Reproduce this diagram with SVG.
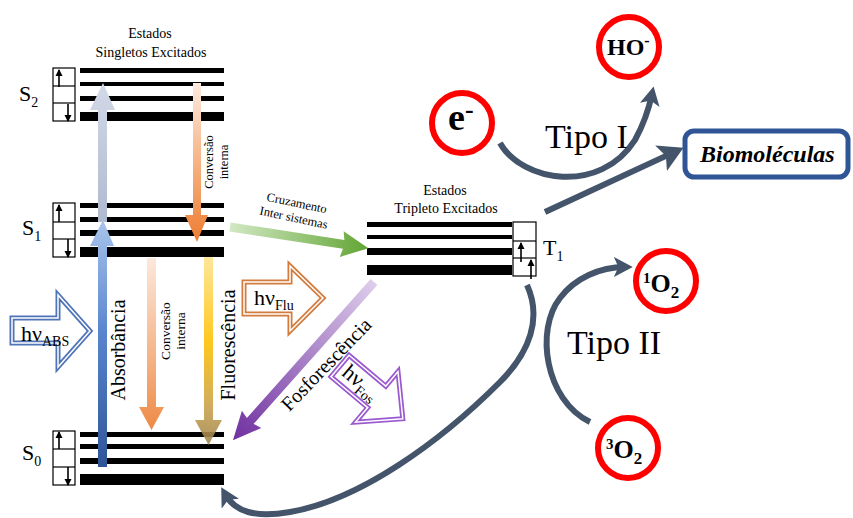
<svg xmlns="http://www.w3.org/2000/svg" width="853" height="518" viewBox="0 0 853 518" font-family="'Liberation Serif', 'Times New Roman', 'DejaVu Serif', serif">
<style>
text{font-family:'Liberation Serif','Times New Roman','DejaVu Serif',serif;fill:#000}
.b{font-weight:bold}
.lv{fill:#000}
.box{fill:#fff;stroke:#000;stroke-width:1.2}
.sa{stroke:#000;stroke-width:1.6;fill:none;marker-end:url(#sm)}
.sl{fill:none;stroke:#44546a;stroke-width:6}
.circ{fill:#fff;stroke:#ff0000;stroke-width:6}
</style>
<defs>
<marker id="sm" markerUnits="userSpaceOnUse" markerWidth="8" markerHeight="8" refX="6" refY="3.5" orient="auto" viewBox="0 0 8 7"><path d="M0,0 L7,3.5 L0,7 Z" fill="#000"/></marker>
<marker id="ah" markerUnits="userSpaceOnUse" markerWidth="20" markerHeight="20" refX="10" refY="9" orient="auto" viewBox="0 0 18 18"><path d="M0,0 L17,9 L0,18 L4,9 Z" fill="#44546a"/></marker>
<marker id="ahL" markerUnits="userSpaceOnUse" markerWidth="26" markerHeight="28" refX="15" refY="13" orient="auto" viewBox="0 0 24 26"><path d="M0,0 L23,13 L0,26 L5,13 Z" fill="#44546a"/></marker>
<linearGradient id="gAbsLow" gradientUnits="userSpaceOnUse" x1="0" y1="467" x2="0" y2="220"><stop offset="0" stop-color="#2f5597"/><stop offset="0.55" stop-color="#5a86cf"/><stop offset="1" stop-color="#a9c4ec"/></linearGradient>
<linearGradient id="gAbsUp" gradientUnits="userSpaceOnUse" x1="0" y1="222" x2="0" y2="83"><stop offset="0" stop-color="#aebad0"/><stop offset="1" stop-color="#d2d9e7"/></linearGradient>
<linearGradient id="gConvTop" gradientUnits="userSpaceOnUse" x1="0" y1="83" x2="0" y2="242"><stop offset="0" stop-color="#fdeadf"/><stop offset="0.6" stop-color="#f4a872"/><stop offset="1" stop-color="#ed7d31"/></linearGradient>
<linearGradient id="gConvBot" gradientUnits="userSpaceOnUse" x1="0" y1="258" x2="0" y2="430"><stop offset="0" stop-color="#fce8dc"/><stop offset="0.6" stop-color="#f4b183"/><stop offset="1" stop-color="#ee8a46"/></linearGradient>
<linearGradient id="gFlu" gradientUnits="userSpaceOnUse" x1="0" y1="257" x2="0" y2="445"><stop offset="0" stop-color="#ffe38c"/><stop offset="0.45" stop-color="#ffc000"/><stop offset="0.8" stop-color="#c9a04a"/><stop offset="1" stop-color="#9c8450"/></linearGradient>
<linearGradient id="gCis" x1="0" y1="0" x2="1" y2="0"><stop offset="0" stop-color="#d2e8c4"/><stop offset="1" stop-color="#62a534"/></linearGradient>
<linearGradient id="gFos" x1="0" y1="0" x2="1" y2="0"><stop offset="0" stop-color="#ddcdea"/><stop offset="1" stop-color="#7030a0"/></linearGradient>
</defs>
<rect width="853" height="518" fill="#fff"/>

<g id="singlet-title">
<text x="150" y="38" font-size="14" text-anchor="middle">Estados</text>
<text x="151" y="57" font-size="14" text-anchor="middle">Singletos Excitados</text>
</g>

<g id="S2">
<rect class="lv" x="80" y="68" width="144" height="5"/>
<rect class="lv" x="80" y="82" width="144" height="4"/>
<rect class="lv" x="80" y="96" width="144" height="5"/>
<rect class="lv" x="80" y="112" width="144" height="9"/>
<rect class="box" x="53" y="68" width="22" height="53"/>
<line x1="53" y1="86" x2="75" y2="86" stroke="#000" stroke-width="1.2"/>
<line x1="53" y1="103" x2="75" y2="103" stroke="#000" stroke-width="1.2"/>
<line class="sa" x1="59" y1="87" x2="59" y2="70"/>
<line class="sa" x1="68" y1="104" x2="68" y2="121"/>
<text x="19" y="101" font-size="22">S<tspan font-size="14" dy="6">2</tspan></text>
</g>

<g id="S1">
<rect class="lv" x="80" y="203" width="144" height="5"/>
<rect class="lv" x="80" y="217" width="144" height="5"/>
<rect class="lv" x="80" y="230" width="144" height="6"/>
<rect class="lv" x="80" y="247" width="144" height="10"/>
<rect class="box" x="53" y="203" width="22" height="54"/>
<line x1="53" y1="222" x2="75" y2="222" stroke="#000" stroke-width="1.2"/>
<line x1="53" y1="239" x2="75" y2="239" stroke="#000" stroke-width="1.2"/>
<line class="sa" x1="59" y1="222" x2="59" y2="205"/>
<line class="sa" x1="68" y1="239" x2="68" y2="257"/>
<text x="22" y="235" font-size="22">S<tspan font-size="14" dy="6">1</tspan></text>
</g>

<g id="S0">
<rect class="lv" x="80" y="432" width="144" height="5"/>
<rect class="lv" x="80" y="444" width="144" height="5"/>
<rect class="lv" x="80" y="458" width="144" height="6"/>
<rect class="lv" x="80" y="474" width="144" height="11"/>
<rect class="box" x="53" y="431" width="22" height="54"/>
<line x1="53" y1="449" x2="75" y2="449" stroke="#000" stroke-width="1.2"/>
<line x1="53" y1="467" x2="75" y2="467" stroke="#000" stroke-width="1.2"/>
<line class="sa" x1="59" y1="449" x2="59" y2="432"/>
<line class="sa" x1="68" y1="467" x2="68" y2="485"/>
<text x="22" y="460" font-size="22">S<tspan font-size="14" dy="6">0</tspan></text>
</g>

<g id="T1">
<text x="445" y="195" font-size="14" text-anchor="middle">Estados</text>
<text x="446" y="213" font-size="14" text-anchor="middle">Tripleto Excitados</text>
<rect class="lv" x="367" y="222" width="145" height="5"/>
<rect class="lv" x="367" y="235" width="145" height="4"/>
<rect class="lv" x="367" y="248" width="145" height="7"/>
<rect class="lv" x="367" y="265" width="145" height="10"/>
<rect class="box" x="513" y="222" width="23" height="54"/>
<line x1="513" y1="241" x2="536" y2="241" stroke="#000" stroke-width="1.2"/>
<line x1="513" y1="258" x2="536" y2="258" stroke="#000" stroke-width="1.2"/>
<line class="sa" x1="521" y1="262" x2="521" y2="243"/>
<line class="sa" x1="531" y1="279" x2="531" y2="260"/>
<text x="543" y="255" font-size="22">T<tspan font-size="14" dy="6">1</tspan></text>
</g>

<g id="connectors">
<g id="absorbancia">
<polygon fill="url(#gAbsUp)" points="98,222 98,110 90,110 103,83 115,110 107,110 107,222"/>
<polygon fill="url(#gAbsLow)" points="98,467 98,246 90,246 103,220 114,246 107,246 107,467"/>
<text transform="translate(125,350) rotate(-90)" font-size="20" text-anchor="middle">Absorbância</text>
</g>
<g id="conv-top">
<polygon fill="url(#gConvTop)" points="193,83 193,215 185,215 197,242 208,215 201,215 201,83"/>
<text transform="translate(213,162) rotate(-90)" font-size="12.5" text-anchor="middle">Conversão<tspan x="0" dy="15">interna</tspan></text>
</g>
<g id="conv-bot">
<polygon fill="url(#gConvBot)" points="147,258 147,407 139,407 151.5,430 164,407 156,407 156,258"/>
<text transform="translate(170,331) rotate(-90)" font-size="13.5" text-anchor="middle">Conversão<tspan x="0" dy="15">interna</tspan></text>
</g>
<g id="fluorescencia">
<polygon fill="url(#gFlu)" opacity="0.88" points="204,257 204,420 195,420 208.5,445 222,420 213,420 213,257"/>
<text transform="translate(235,345) rotate(-90)" font-size="20" text-anchor="middle">Fluorescência</text>
</g>
<g id="cruzamento">
<polygon fill="url(#gCis)" transform="translate(230,227) rotate(8.7)" points="0,-4.5 115,-4.5 113,-13 140,0 113,13 115,4.5 0,4.5"/>
<g transform="translate(296,207) rotate(12)">
<text x="0" y="0" font-size="12.5" text-anchor="middle">Cruzamento</text>
<text x="0" y="15" font-size="12.5" text-anchor="middle">Inter sistemas</text>
</g>
</g>
<g id="fosforescencia">
<polygon fill="url(#gFos)" transform="translate(374,282) rotate(131.7)" points="0,-4.5 186,-4.5 184,-13 212,0 184,13 186,4.5 0,4.5"/>
<text transform="translate(331,369) rotate(-46)" font-size="20" text-anchor="middle">Fosforescência</text>
</g>
<path class="sl" d="M500,143 C522,182 600,195 635,140 Q647,118 652,94" marker-end="url(#ah)"/>
<path class="sl" d="M545,212 L675.7,151.4" marker-end="url(#ahL)"/>
<path class="sl" d="M590,422 C545,400 535,330 560,298 C575,278 600,267 625,267" marker-end="url(#ah)"/>
<path class="sl" d="M527,285 C542,318 530,352 500,382 C440,442 360,500 290,512 C255,518 235,512 225,494" marker-end="url(#ah)"/>
</g>

<g id="hv-abs">
<polygon points="12,318 58,318 58,295 90,331 58,367 58,343 12,343" fill="#fff" stroke="#4f74b8" stroke-width="5"/>
<polygon points="12,318 58,318 58,295 90,331 58,367 58,343 12,343" fill="none" stroke="#fff" stroke-width="1.5"/>
<text x="21" y="341" font-size="22">hν<tspan font-size="14" dy="5">ABS</tspan></text>
</g>

<g id="hv-flu">
<polygon points="244,282 290,282 290,266 323,298 290,331 290,314 244,314" fill="#fff" stroke="#d27b3c" stroke-width="5"/>
<polygon points="244,282 290,282 290,266 323,298 290,331 290,314 244,314" fill="none" stroke="#fff" stroke-width="1.5"/>
<text x="254" y="305" font-size="22">hν<tspan font-size="14" dy="5">Flu</tspan></text>
</g>

<g id="hv-fos" transform="translate(340,366) rotate(40)">
<polygon points="0,-14 48,-14 48,-33 82,0 48,33 48,14 0,14" fill="#fff" stroke="#9b59d0" stroke-width="5"/>
<polygon points="0,-14 48,-14 48,-33 82,0 48,33 48,14 0,14" fill="none" stroke="#fff" stroke-width="1.5"/>
<text x="6" y="6" font-size="22">hν<tspan font-size="14" dy="5">Fos</tspan></text>
</g>

<g id="HO">
<circle class="circ" cx="629" cy="47" r="30"/>
<text class="b" x="607" y="55" font-size="24">HO<tspan font-size="16" dy="-9">-</tspan></text>
</g>
<g id="electron">
<circle class="circ" cx="462" cy="123" r="30"/>
<text class="b" x="448" y="130" font-size="38">e<tspan font-size="26" dy="-12">-</tspan></text>
</g>
<g id="O2-singlet">
<circle class="circ" cx="666" cy="281" r="30"/>
<text class="b" x="643" y="292" font-size="26"><tspan font-size="15" dy="-9">1</tspan><tspan dy="9">O</tspan><tspan font-size="17" dy="6">2</tspan></text>
</g>
<g id="O2-triplet">
<circle class="circ" cx="628" cy="448" r="30"/>
<text class="b" x="606" y="458" font-size="26"><tspan font-size="15" dy="-9">3</tspan><tspan dy="9">O</tspan><tspan font-size="17" dy="6">2</tspan></text>
</g>
<g id="biomoleculas">
<rect x="685" y="131" width="163" height="46" rx="9" fill="#fff" stroke="#2f5597" stroke-width="5"/>
<text class="b" x="700" y="162" font-size="24" font-style="italic">Biomoléculas</text>
</g>
<g id="labels">
<text x="545" y="148" font-size="34">Tipo I</text>
<text x="567" y="354" font-size="34">Tipo II</text>
</g>
</svg>
